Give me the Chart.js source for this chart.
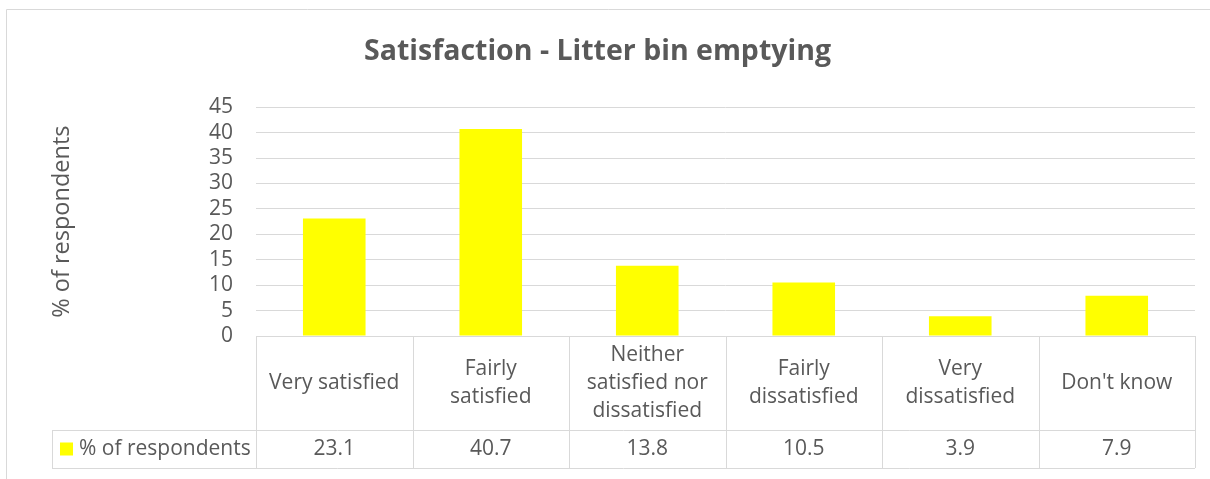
<!DOCTYPE html>
<html>
<head>
<meta charset="utf-8">
<title>Satisfaction - Litter bin emptying</title>
<script src="https://cdn.jsdelivr.net/npm/chart.js@4/dist/chart.umd.min.js"></script>
<style>
  html, body { margin: 0; padding: 0; background: #fff; }
  #wrap { width: 1210px; height: 479px; }
</style>
</head>
<body>
<div id="wrap"><canvas id="satChart" width="1210" height="479"></canvas></div>
<script>
// Chart data
const chartTitle = 'Satisfaction - Litter bin emptying';
const seriesName = '% of respondents';
const categories = [
    'Very satisfied',
    ['Fairly', 'satisfied'],
    ['Neither', 'satisfied nor', 'dissatisfied'],
    ['Fairly', 'dissatisfied'],
    ['Very', 'dissatisfied'],
    "Don't know"
];
const respondents = [23.1, 40.7, 13.8, 10.5, 3.9, 7.9];
const yTicks = { min: 0, max: 45, step: 5 };

const textColor = '#595959';
const lineColor = '#d9d9d9';
const barColor = '#ffff00';
const fontFamily = '"Open Sans", "Noto Sans", sans-serif';
const tableFontSize = 21;

// Outer frame + data table under the plot
const tablePlugin = {
    id: 'dataTable',
    afterDraw(chart) {
        const ctx = chart.ctx;
        const area = chart.chartArea;
        const xScale = chart.scales.x;
        const colW = (area.right - area.left) / categories.length;
        const row1Bottom = area.bottom + 94;
        const row2Bottom = row1Bottom + 38;
        const legendLeft = 52;

        ctx.save();
        ctx.strokeStyle = lineColor;
        ctx.lineWidth = 1;

        // chart frame (left + top edges, rest is cut off)
        ctx.beginPath();
        ctx.moveTo(6.5, chart.height);
        ctx.lineTo(6.5, 9.5);
        ctx.lineTo(chart.width, 9.5);
        ctx.stroke();

        // table grid
        ctx.beginPath();
        ctx.moveTo(area.left, area.bottom + 0.5);
        ctx.lineTo(area.right, area.bottom + 0.5);
        ctx.moveTo(legendLeft, row1Bottom + 0.5);
        ctx.lineTo(area.right, row1Bottom + 0.5);
        ctx.moveTo(legendLeft, row2Bottom + 0.5);
        ctx.lineTo(area.right, row2Bottom + 0.5);
        ctx.moveTo(legendLeft + 0.5, row1Bottom);
        ctx.lineTo(legendLeft + 0.5, row2Bottom);
        for (let i = 0; i <= categories.length; i++) {
            const x = Math.round(area.left + i * colW) + 0.5;
            ctx.moveTo(x, area.bottom);
            ctx.lineTo(x, row2Bottom);
        }
        ctx.stroke();

        // category labels and values
        ctx.fillStyle = textColor;
        ctx.font = tableFontSize + 'px ' + fontFamily;
        ctx.textAlign = 'center';
        ctx.textBaseline = 'middle';
        const lineH = 28;
        const row1Mid = (area.bottom + row1Bottom) / 2;
        const row2Mid = (row1Bottom + row2Bottom) / 2;
        categories.forEach((cat, i) => {
            const x = xScale.getPixelForValue(i);
            const lines = Array.isArray(cat) ? cat : [cat];
            lines.forEach((txt, j) => {
                const y = row1Mid + (j - (lines.length - 1) / 2) * lineH;
                ctx.fillText(txt, x, y);
            });
            ctx.fillText(respondents[i].toFixed(1), x, row2Mid);
        });

        // legend key in the table
        ctx.fillStyle = barColor;
        ctx.fillRect(60, row2Mid - 6.5, 13, 13);
        ctx.fillStyle = textColor;
        ctx.textAlign = 'left';
        ctx.fillText(seriesName, 79, row2Mid);
        ctx.restore();
    }
};

const ctx = document.getElementById('satChart').getContext('2d');
new Chart(ctx, {
    type: 'bar',
    data: {
        labels: categories,
        datasets: [{
            label: seriesName,
            data: respondents,
            backgroundColor: barColor,
            barPercentage: 0.4,
            categoryPercentage: 1.0
        }]
    },
    options: {
        responsive: false,
        animation: false,
        events: [],
        layout: { padding: { left: 0, top: 0, right: 15, bottom: 143 } },
        plugins: {
            legend: { display: false },
            tooltip: { enabled: false },
            title: {
                display: true,
                text: chartTitle,
                color: textColor,
                font: { family: fontFamily, size: 28.5, weight: 'bold' },
                padding: { top: 35, bottom: 38 }
            }
        },
        scales: {
            x: {
                display: false
            },
            y: {
                min: yTicks.min,
                max: yTicks.max,
                ticks: {
                    stepSize: yTicks.step,
                    autoSkip: false,
                    color: textColor,
                    padding: 23,
                    font: { family: fontFamily, size: 21, lineHeight: 1 }
                },
                grid: { color: lineColor, drawTicks: false },
                border: { display: false },
                title: {
                    display: true,
                    text: seriesName,
                    color: textColor,
                    font: { family: fontFamily, size: 23.5 },
                    padding: { top: 48, bottom: 0 }
                },
                afterFit(scale) {
                    scale.width = 256;
                }
            }
        }
    },
    plugins: [tablePlugin]
});
</script>
</body>
</html>
